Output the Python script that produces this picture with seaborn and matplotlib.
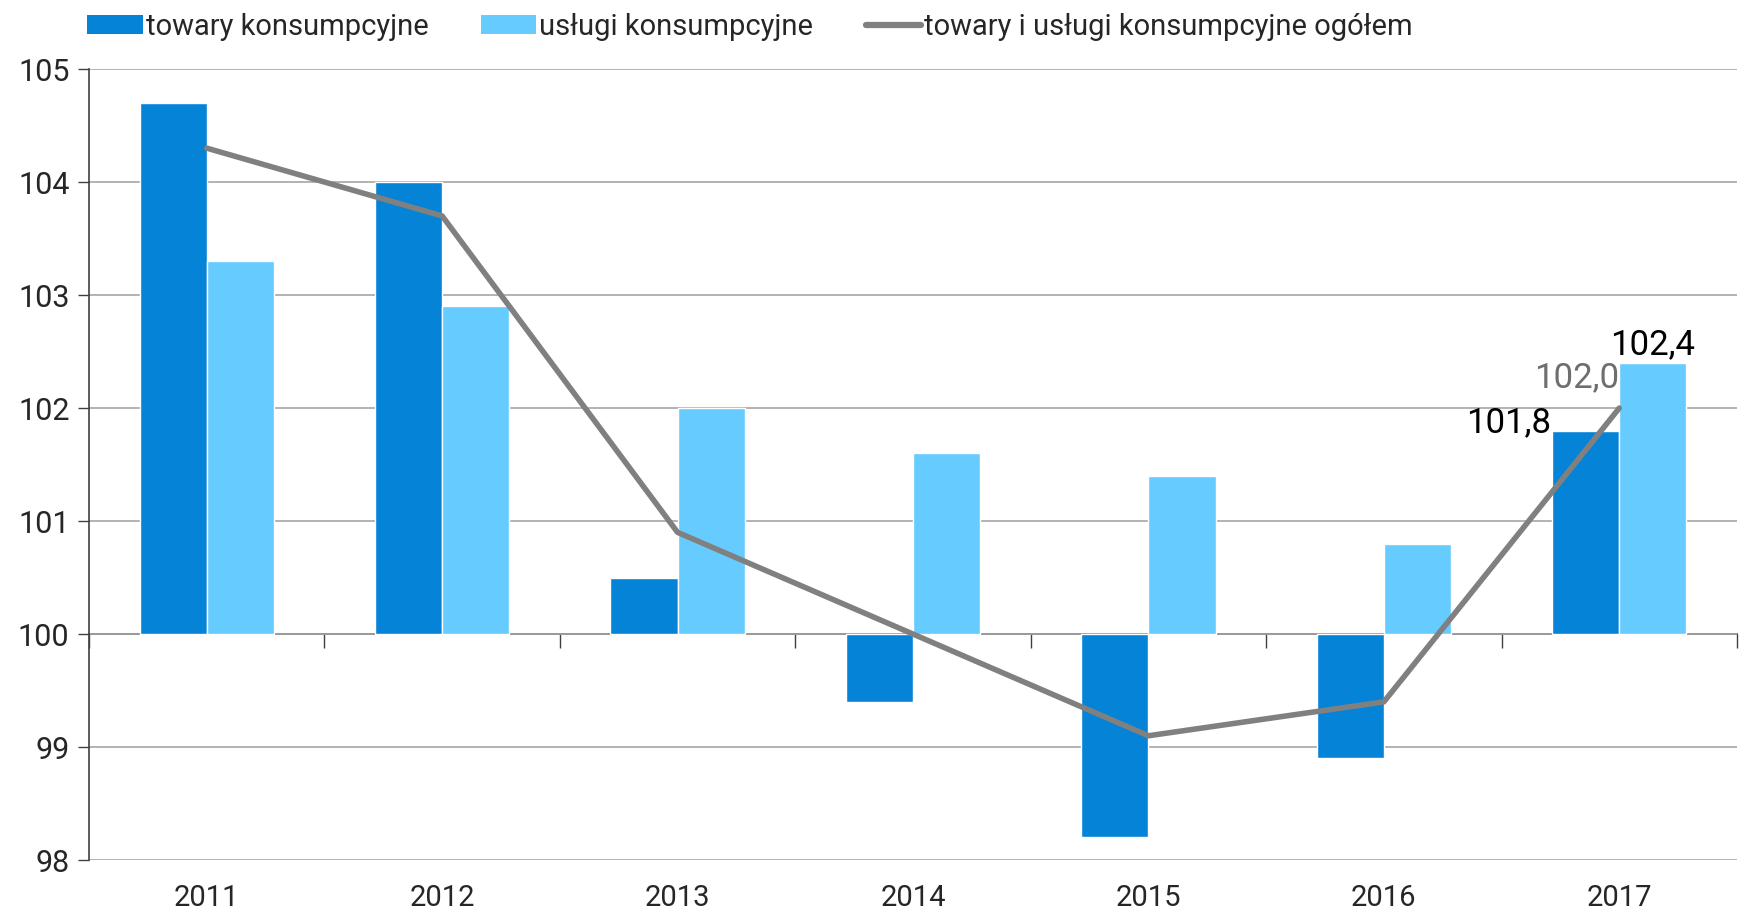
import pandas as pd
import numpy as np
import matplotlib
matplotlib.use('Agg')
import matplotlib.pyplot as plt
import seaborn as sns

# dane: wskaźniki cen (rok poprzedni = 100)
lata = ['2011', '2012', '2013', '2014', '2015', '2016', '2017']
towary = [104.7, 104.0, 100.5, 99.4, 98.2, 98.9, 101.8]
uslugi = [103.3, 102.9, 102.0, 101.6, 101.4, 100.8, 102.4]
ogolem = [104.3, 103.7, 100.9, 100.0, 99.1, 99.4, 102.0]

serie = ['towary konsumpcyjne', 'usługi konsumpcyjne']
linia_nazwa = 'towary i usługi konsumpcyjne ogółem'
y_ticks = [98, 99, 100, 101, 102, 103, 104, 105]

kolory = {'towary konsumpcyjne': '#0583d6', 'usługi konsumpcyjne': '#66ccff'}
szary = '#808080'

sns.set_style('white')
plt.rcParams['font.family'] = ['Roboto', 'DejaVu Sans']

df = pd.DataFrame({
    'rok': lata * 2,
    'seria': [serie[0]] * len(lata) + [serie[1]] * len(lata),
    'wartosc': towary + uslugi,
})
df['odchylenie'] = df['wartosc'] - 100

fig = plt.figure(figsize=(17.44, 9.14), dpi=100)
ax = fig.add_axes([0.051, 0.059, 0.945, 0.8655])

szer = 0.57
sns.barplot(data=df, x='rok', y='odchylenie', hue='seria', order=lata,
            hue_order=serie, palette=kolory, saturation=1, width=szer,
            bottom=100, errorbar=None, edgecolor='white', linewidth=1,
            legend=False, ax=ax, zorder=2)

sns.lineplot(x=np.arange(len(lata)), y=ogolem, color=szary, linewidth=4,
             ax=ax, zorder=3, label=linia_nazwa, legend=False)

ax.set_xlim(-0.5, len(lata) - 0.5)
ax.set_ylim(98, 105)
ax.set_yticks(y_ticks)
ax.set_xticks(range(len(lata)))
ax.set_xticklabels(lata)
ax.set_xlabel('')
ax.set_ylabel('')
ax.tick_params(axis='x', length=0, pad=17, labelsize=21)
ax.tick_params(axis='y', length=8, width=1, color='#404040', pad=6, labelsize=22,
               left=True)
ax.yaxis.grid(True, color='#a6a6a6', linewidth=1.2, zorder=0)
ax.set_axisbelow(True)
for s in ['top', 'right', 'bottom']:
    ax.spines[s].set_visible(False)
ax.spines['left'].set_color('#404040')
ax.spines['left'].set_linewidth(1.2)

# oś kategorii na poziomie 100
os100 = ax.secondary_xaxis((100 - 98) / (105 - 98))
os100.set_xticks(np.arange(len(lata) + 1) - 0.5)
os100.set_xticklabels([])
os100.tick_params(length=10, width=1, color='#404040', direction='out')
os100.spines['bottom'].set_color('#404040')
os100.spines['bottom'].set_linewidth(1.2)

# etykiety dla 2017
fmt = lambda v: f'{v:.1f}'.replace('.', ',')
i = len(lata) - 1
ax.annotate(fmt(towary[i]), (i - szer / 2, towary[i]), xytext=(-1, 6),
            textcoords='offset points', ha='right', va='center',
            fontsize=25, color='black', zorder=5)
ax.annotate(fmt(ogolem[i]), (i, ogolem[i]), xytext=(0, 10),
            textcoords='offset points', ha='right', va='bottom',
            fontsize=25, color='#6e6e6e', zorder=5)
ax.annotate(fmt(uslugi[i]), (i + szer / 4, uslugi[i]), xytext=(0, 1),
            textcoords='offset points', ha='center', va='bottom',
            fontsize=25, color='black', zorder=5)

# legenda
from matplotlib.patches import Patch
from matplotlib.lines import Line2D
uchwyty = [Patch(facecolor=kolory[s], edgecolor='none') for s in serie]
uchwyty.append(Line2D([], [], color=szary, linewidth=4.5))
fig.legend(uchwyty, serie + [linia_nazwa], loc='upper left',
           bbox_to_anchor=(0.035, 1.015), ncol=3, frameon=False, fontsize=21,
           handlelength=1.9, handleheight=0.65, handletextpad=0.1,
           columnspacing=1.8)

fig.savefig('out.png', dpi=100)
